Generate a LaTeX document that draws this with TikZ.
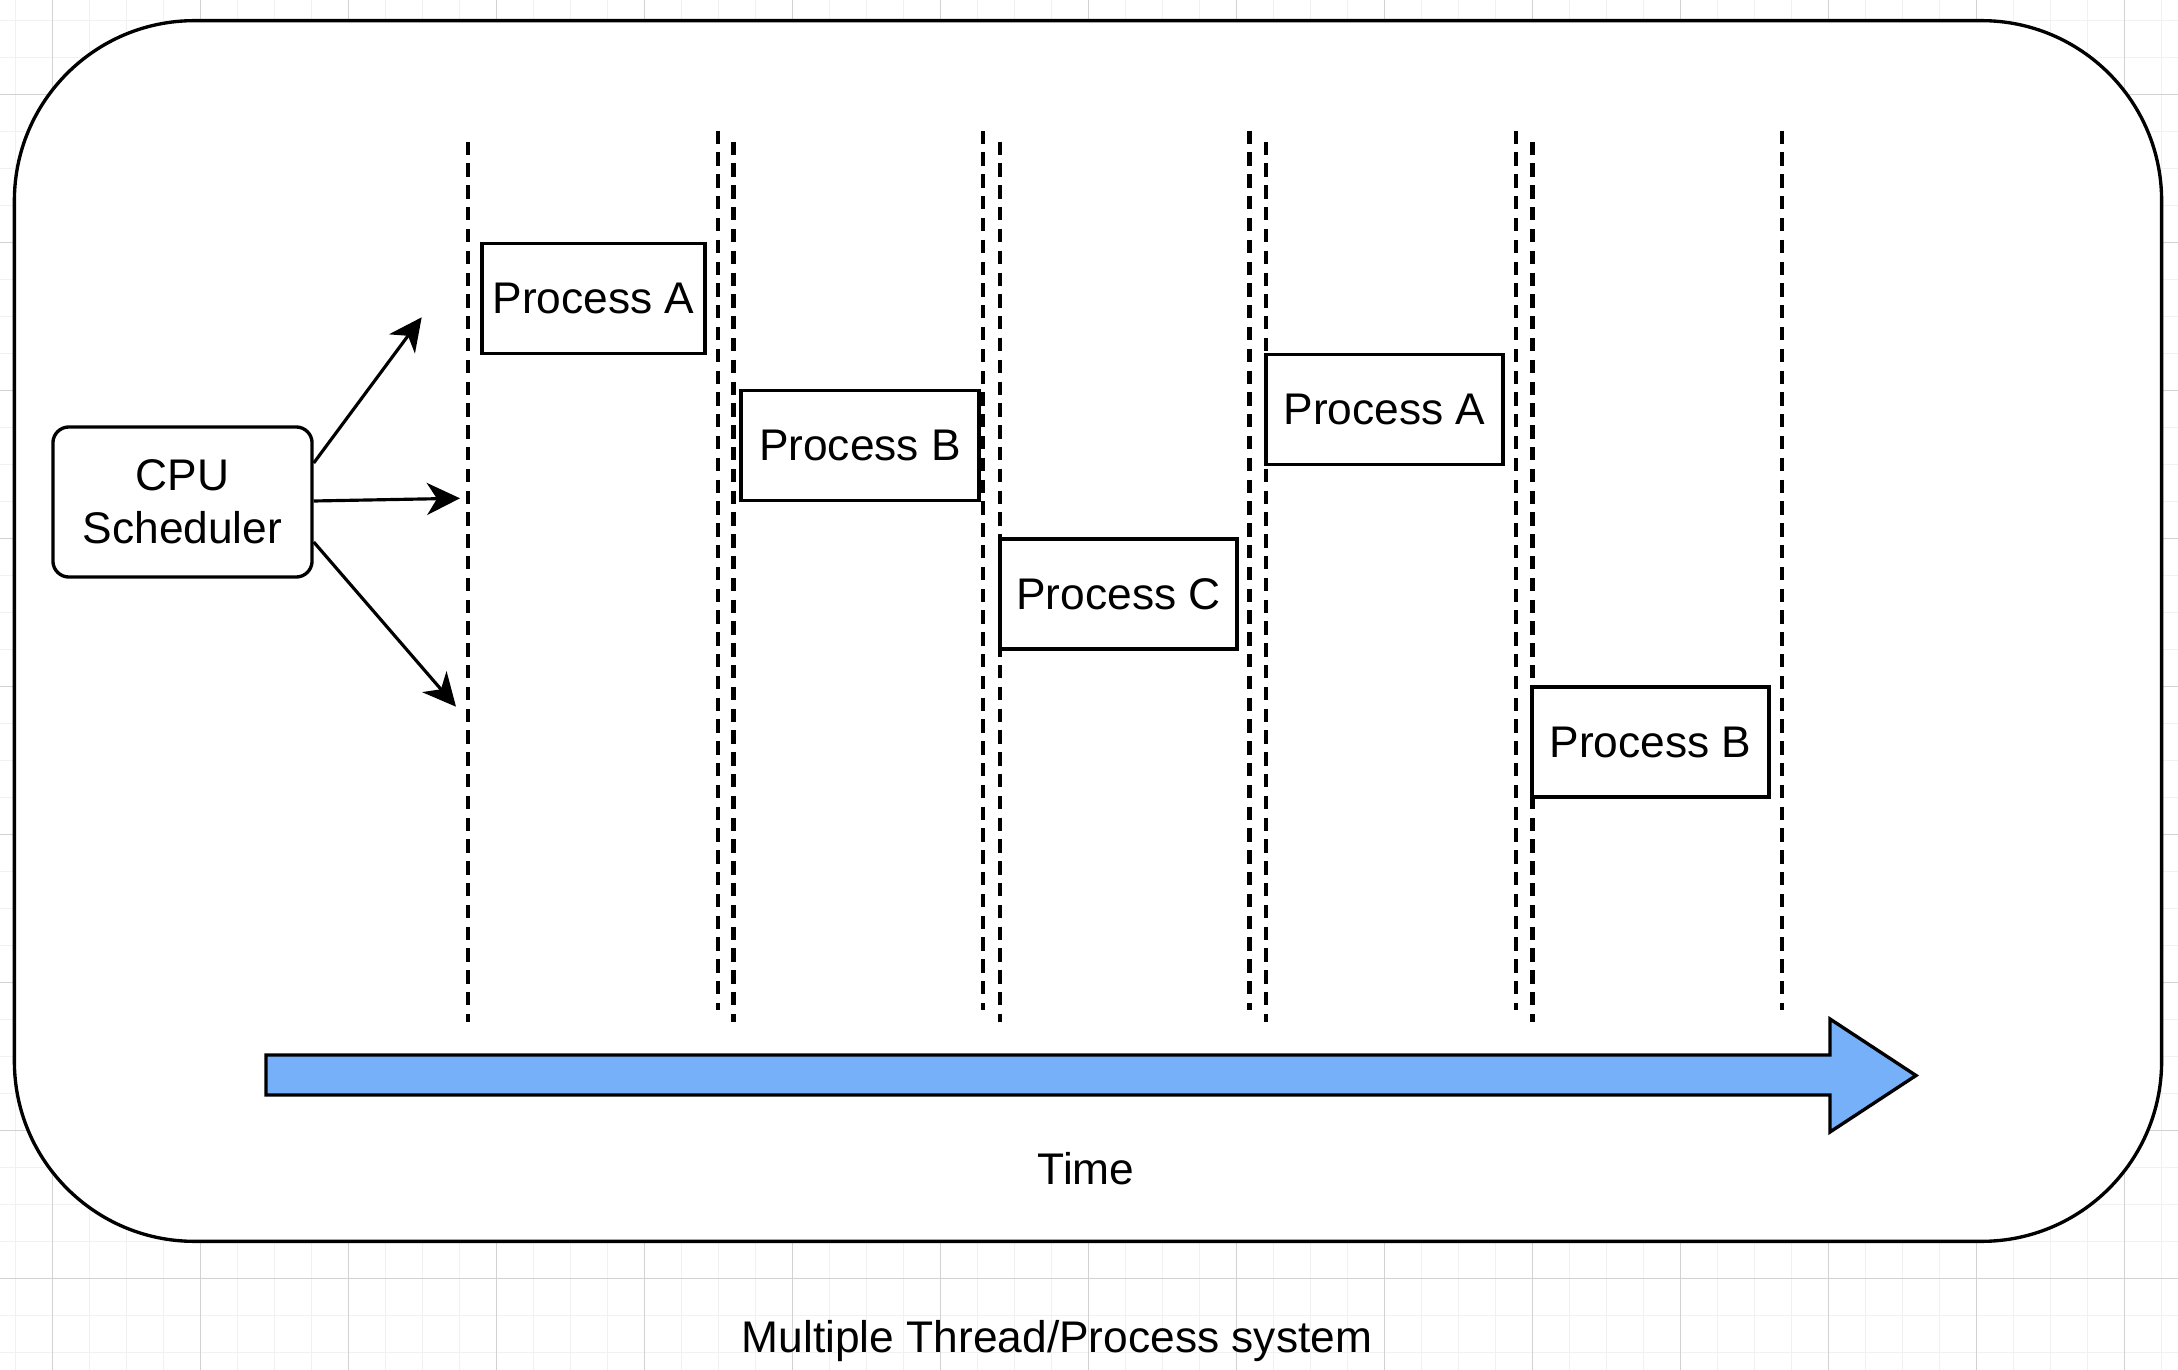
\documentclass[tikz,border=0pt]{standalone}
\usepackage{fontspec}
\setmainfont{Liberation Sans}
\usetikzlibrary{arrows.meta}
\definecolor{gridmajor}{RGB}{210,210,210}
\definecolor{gridminor}{RGB}{241,241,241}
\definecolor{timeblue}{RGB}{118,176,248}
\begin{document}
\begin{tikzpicture}[x=0.01cm,y=-0.01cm,
  lbl/.style={font=\fontsize{12.6pt}{15pt}\selectfont},
  procbox/.style={draw,line width=1pt,fill=white,minimum height=1.1cm,inner sep=0pt,lbl},
  slot/.style={line width=1.15pt,dash pattern=on 3.8pt off 2.4pt},
  sched/.style={line width=0.9pt,-{Stealth[length=0.33cm,width=0.32cm,inset=0.1cm]}},
  gminor/.style={draw=gridminor,line width=0.3pt},
  gmajor/.style={draw=gridmajor,line width=0.3pt}
]
\useasboundingbox (0,0) rectangle (2178,1370);
\fill[white] (0,0) rectangle (2178,1370);
% background grid
\foreach \i in {0,...,58} \draw[gminor] ({15.3+37*\i},0) -- ({15.3+37*\i},1370);
\foreach \j in {0,...,36} \draw[gminor] (0,{20.3+37*\j}) -- (2178,{20.3+37*\j});
\foreach \i in {0,...,14} \draw[gmajor] ({52.3+148*\i},0) -- ({52.3+148*\i},1370);
\foreach \j in {0,...,8} \draw[gmajor] (0,{94.3+148*\j}) -- (2178,{94.3+148*\j});
% outer frame
\node[draw,line width=0.95pt,fill=white,rounded corners=1.8cm,minimum width=21.46cm,minimum height=12.2cm,inner sep=0pt] (frame) at (1088,631) {};
% time slot boundaries
\foreach \x [count=\k] in {468,733.5,1000,1266,1532.5} {
  \coordinate (st\k) at (\x,141.7);
  \coordinate (sb\k) at (\x,1021.7);
  \draw[slot] (st\k) -- (sb\k);
}
\foreach \x [count=\k] in {718.3,983,1249.5,1516,1782.3} {
  \coordinate (et\k) at (\x,130.7);
  \coordinate (eb\k) at (\x,1010);
  \draw[slot] (et\k) -- (eb\k);
}
% processes
\node[procbox,minimum width=2.23cm] (pa1) at (593.5,298.5) {Process A};
\node[procbox,minimum width=2.38cm] (pb1) at (860,445.5) {Process B};
\node[procbox,minimum width=2.37cm] (pc) at (1118.5,594) {Process C};
\node[procbox,minimum width=2.37cm] (pa2) at (1384.5,409.5) {Process A};
\node[procbox,minimum width=2.37cm] (pb2) at (1650.5,742) {Process B};
% scheduler
\node[draw,line width=0.95pt,fill=white,rounded corners=0.16cm,minimum width=2.59cm,minimum height=1.5cm,align=center,inner sep=0pt,lbl] (cpu) at (182.5,502) {CPU\\Scheduler};
\coordinate (e1) at (421.7,317.3);
\coordinate (e2) at (460,498.3);
\coordinate (e3) at (456,706.7);
\draw[sched] ([yshift=0.39cm]cpu.east) -- (e1);
\draw[sched] ([yshift=0.01cm]cpu.east) -- (e2);
\draw[sched] ([yshift=-0.40cm]cpu.east) -- (e3);
% time arrow
\draw[line width=0.95pt,fill=timeblue] (266,1055) -- (1830,1055) -- (1830,1019) -- (1916,1075.5) -- (1830,1132) -- (1830,1095) -- (266,1095) -- cycle;
\node[lbl,anchor=base,inner sep=0pt] (time) at (1086,1184) {Time};
\node[lbl,anchor=base,inner sep=0pt] (caption) at (1057,1352) {Multiple Thread/Process system};
\end{tikzpicture}
\end{document}
